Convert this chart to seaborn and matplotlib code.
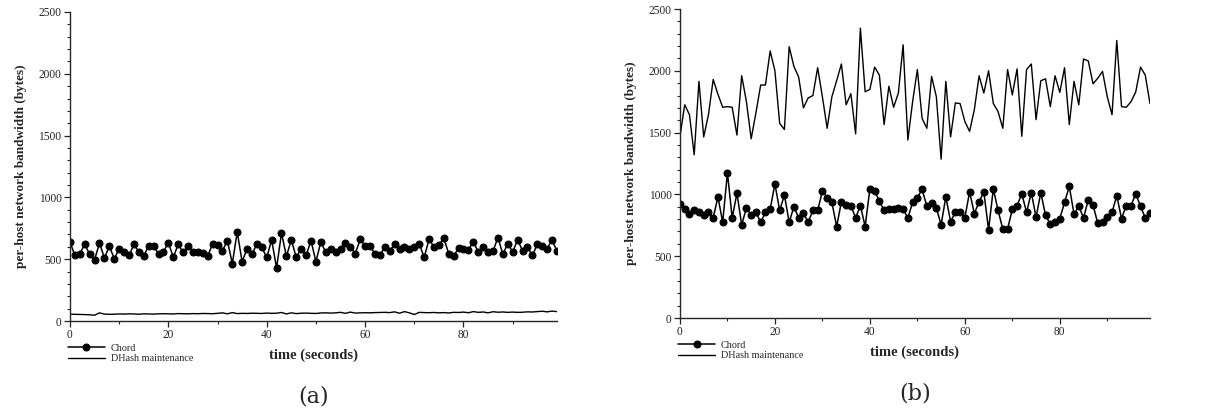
import numpy as np
import matplotlib
matplotlib.use("Agg")
import matplotlib.pyplot as plt
import seaborn as sns
from matplotlib.ticker import MultipleLocator

# Time axis (seconds)
time_s = list(range(100))

# (a) Chord and DHash maintenance traffic, per host (bytes)
chord_a = [640, 530, 545, 620, 540, 495, 630, 510, 605, 505,
           580, 560, 530, 620, 560, 525, 610, 610, 540, 560,
           635, 515, 620, 555, 605, 560, 560, 550, 525, 625,
           615, 570, 650, 465, 720, 480, 585, 545, 620, 595,
           515, 655, 430, 710, 525, 655, 515, 585, 530, 650,
           480, 640, 555, 585, 560, 585, 635, 600, 545, 660,
           610, 605, 545, 530, 600, 570, 620, 580, 595, 580,
           595, 625, 515, 660, 600, 615, 670, 545, 525, 590,
           585, 575, 640, 560, 595, 560, 565, 675, 540, 625,
           560, 655, 570, 600, 530, 620, 605, 585, 655, 565]
dhash_a = [55, 54, 53, 52, 50, 47, 66, 56, 54, 55,
           57, 56, 58, 57, 55, 58, 57, 56, 58, 59,
           58, 57, 60, 59, 58, 60, 59, 61, 60, 59,
           62, 66, 58, 68, 60, 62, 61, 63, 62, 61,
           64, 62, 63, 69, 57, 66, 60, 63, 64, 62,
           61, 65, 66, 64, 66, 70, 62, 72, 64, 66,
           67, 66, 68, 69, 70, 68, 74, 63, 76, 66,
           52, 70, 68, 67, 69, 66, 68, 65, 70, 69,
           72, 67, 76, 70, 73, 66, 75, 71, 73, 70,
           72, 70, 71, 74, 73, 76, 79, 74, 80, 76]

# (b) Chord and DHash maintenance traffic, per host (bytes)
chord_b = [925, 885, 840, 875, 855, 835, 855, 810, 980, 775,
           1175, 810, 1010, 755, 890, 835, 855, 775, 855, 880,
           1085, 870, 995, 775, 900, 810, 850, 775, 870, 870,
           1025, 975, 935, 740, 940, 915, 910, 810, 910, 740,
           1045, 1030, 945, 870, 880, 885, 890, 880, 810, 935,
           975, 1040, 905, 930, 890, 755, 980, 780, 855, 855,
           810, 1020, 845, 940, 1020, 715, 1045, 870, 720, 720,
           880, 910, 1005, 855, 1015, 815, 1015, 830, 760, 775,
           805, 935, 1065, 840, 905, 810, 955, 915, 765, 780,
           820, 855, 990, 805, 910, 910, 1005, 905, 810, 850]
dhash_b = [1470, 1725, 1645, 1320, 1915, 1465, 1645, 1930, 1810, 1705,
           1710, 1705, 1480, 1960, 1750, 1450, 1660, 1885, 1885, 2160,
           2000, 1575, 1525, 2195, 2035, 1950, 1700, 1780, 1800, 2025,
           1790, 1535, 1790, 1920, 2055, 1725, 1815, 1490, 2345, 1830,
           1850, 2030, 1965, 1565, 1875, 1705, 1820, 2210, 1440, 1750,
           2010, 1615, 1535, 1955, 1790, 1285, 1915, 1465, 1740, 1735,
           1590, 1510, 1685, 1960, 1820, 2000, 1735, 1670, 1535, 2010,
           1805, 2015, 1470, 2010, 2055, 1605, 1920, 1935, 1710, 1960,
           1825, 2025, 1565, 1915, 1725, 2095, 2080, 1895, 1940, 1995,
           1790, 1645, 2245, 1710, 1705, 1750, 1830, 2030, 1965, 1735]

panels = [("(a)", chord_a, dhash_a), ("(b)", chord_b, dhash_b)]
x_ticks = [0, 20, 40, 60, 80]
y_ticks = [0, 500, 1000, 1500, 2000, 2500]

sns.set_style("ticks")
plt.rcParams["font.family"] = ["Liberation Serif", "DejaVu Serif"]

fig = plt.figure(figsize=(12.19, 4.15), dpi=100)
rects = [(0.0574, 0.2265, 0.3995, 0.7446), (0.5578, 0.2337, 0.3856, 0.7446)]

for (tag, chord, dhash), rect in zip(panels, rects):
    ax = fig.add_axes(rect)
    sns.lineplot(x=time_s, y=chord, ax=ax, color="black", linewidth=1.1,
                 marker="o", markersize=5, markeredgecolor="black",
                 label="Chord")
    sns.lineplot(x=time_s, y=dhash, ax=ax, color="black", linewidth=1.0,
                 label="DHash maintenance")
    ax.set_xlim(0, 99)
    ax.set_ylim(0, 2500)
    ax.set_xticks(x_ticks)
    ax.set_yticks(y_ticks)
    ax.xaxis.set_minor_locator(MultipleLocator(10))
    ax.yaxis.set_minor_locator(MultipleLocator(100))
    ax.tick_params(which="major", direction="out", length=4, width=0.9,
                   labelsize=8.3, pad=2)
    ax.tick_params(which="minor", direction="out", length=2.2, width=0.8)
    for s in ("top", "right"):
        ax.spines[s].set_visible(False)
    for s in ("left", "bottom"):
        ax.spines[s].set_linewidth(1.0)
    ax.set_xlabel("time (seconds)", fontsize=10.5, fontweight="bold",
                  labelpad=5)
    ax.set_ylabel("per-host network bandwidth (bytes)", fontsize=9.5,
                  fontweight="bold", labelpad=8)
    ax.legend(loc="upper left", bbox_to_anchor=(-0.012, -0.06),
              frameon=False, fontsize=7.3, handlelength=3.6,
              handletextpad=0.6, labelspacing=0.15, borderaxespad=0)
    ax.text(0.5, -0.245, tag, transform=ax.transAxes, ha="center",
            va="center", fontsize=16, family=["DejaVu Serif"])

fig.savefig("out.png", dpi=100, facecolor="white")
